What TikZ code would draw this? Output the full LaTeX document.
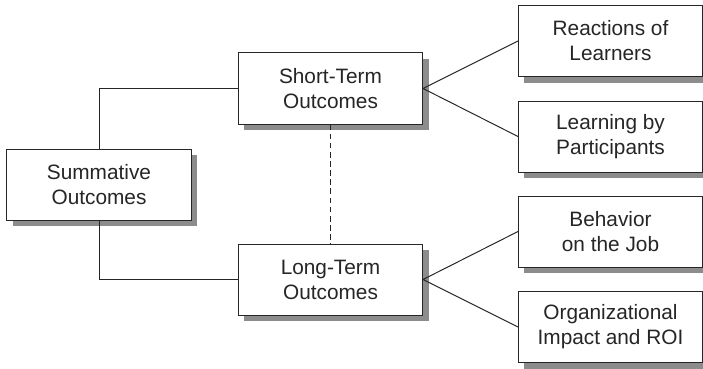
\documentclass[tikz,border=0pt]{standalone}
\usepackage{fontspec}
\setmainfont{Liberation Sans}
\usetikzlibrary{shadows}
\tikzset{
  outcome/.style={draw=black!85,line width=0.7pt,fill=white,align=center,
    minimum width=4.6cm,minimum height=1.775cm,inner sep=0pt,
    font=\fontsize{14.8}{17.8}\selectfont,text=black!85,
    drop shadow={shadow xshift=0.15cm,shadow yshift=-0.15cm,fill=black!45,opacity=1}},
  link/.style={draw=black!85,line width=0.7pt}
}
\begin{document}
\begin{tikzpicture}[x=0.025cm,y=-0.025cm]
\useasboundingbox (0,0) rectangle (703,368);
\node[outcome] (summ) at (99,184.5) {Summative\\Outcomes};
\node[outcome] (short) at (330.5,88.5) {Short-Term\\Outcomes};
\node[outcome] (long) at (330.5,279.5) {Long-Term\\Outcomes};
\node[outcome] (react) at (610.5,41) {Reactions of\\Learners};
\node[outcome] (learn) at (610.5,136.5) {Learning by\\Participants};
\node[outcome] (behav) at (610.5,231.5) {Behavior\\on the Job};
\node[outcome] (impact) at (610.5,327) {Organizational\\Impact and ROI};
\draw[link] (summ.north) |- (short.west);
\draw[link] (summ.south) |- (long.west);
\draw[link,dash pattern=on 4pt off 2.5pt] (short.south) -- (long.north);
\draw[link] (react.west) -- (short.east) -- (learn.west);
\draw[link] (behav.west) -- (long.east) -- (impact.west);
\end{tikzpicture}
\end{document}
